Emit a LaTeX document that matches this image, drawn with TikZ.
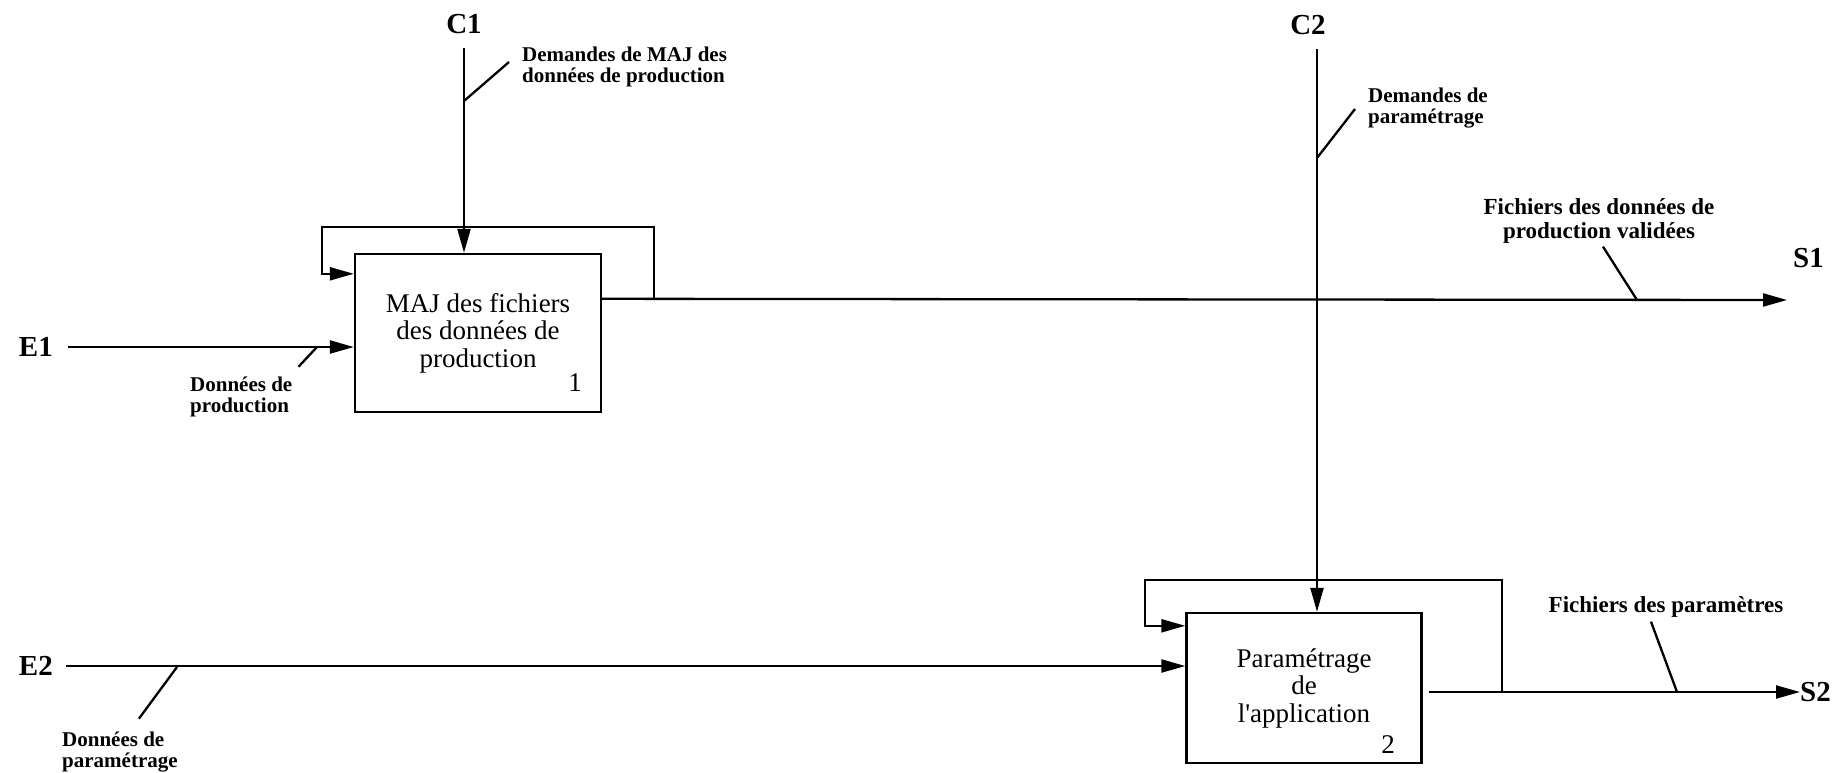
\documentclass[tikz,border=0pt]{standalone}
\usepackage{fontspec}
\setmainfont{Liberation Serif}
\usetikzlibrary{positioning,arrows.meta,calc}

\begin{document}
\begin{tikzpicture}[
      x=1pt, y=-1pt,
      fct/.style={rectangle, draw, line width=2.4pt, align=center, inner sep=0pt,
                  font=\fontsize{27}{27.5}\selectfont},
      fnum/.style={inner sep=0pt, font=\fontsize{27}{27}\selectfont},
      flux/.style={line width=2.3pt, -{Triangle[length=24pt,width=13pt]}},
      lien/.style={line width=2.3pt},
      ext/.style={inner sep=0pt, font=\fontsize{29}{29}\selectfont\bfseries},
      lab/.style={inner sep=0pt, align=left, font=\fontsize{21}{21}\selectfont\bfseries},
      labr/.style={inner sep=0pt, align=center, font=\fontsize{23}{24}\selectfont\bfseries},
    ]
    \useasboundingbox (0,0) rectangle (1840,772);

    \node[fct, minimum width=246pt, minimum height=158pt] (b1) at (478,333) {MAJ des fichiers\\des données de\\production};
    \node[fnum] (n1) at (575,383) {1};
    \node[fct, minimum width=235pt, minimum height=150pt] (b2) at (1304,688) {Paramétrage\\de\\l\textquotesingle application};
    \node[fnum] (n2) at (1388,745) {2};

    \coordinate (c1) at (464,48);
    \node[ext, above=14pt of c1] (C1) {C1};
    \coordinate (c2) at (1317,49);
    \node[ext, above=14pt of c2, xshift=-9pt] (C2) {C2};
    \coordinate (e1) at (68,347);
    \node[ext, left=15pt of e1] (E1) {E1};
    \coordinate (e2) at (66,666);
    \node[ext, left=13pt of e2] (E2) {E2};
    \coordinate (s1) at (1787,300);
    \node[ext, above right=32pt and 6pt of s1] (S1) {S1};
    \node[ext, anchor=west] (S2) at (1800,692) {S2};

    \node[lab, anchor=west] (lc1) at (522,67) {Demandes de MAJ des\\données de production};
    \node[lab, anchor=west] (lc2) at (1368,108) {Demandes de\\paramétrage};
    \node[lab, anchor=west] (le1) at (190,397) {Données de\\production};
    \node[lab, anchor=west] (le2) at (62,752) {Données de\\paramétrage};
    \node[labr] (ls1) at (1599,221) {Fichiers des données de\\production validées};
    \node[labr] (ls2) at (1666,607) {Fichiers des paramètres};

    \coordinate (o1) at ($(b1.north east)+(0,46)$);
    \coordinate (j1) at ($(o1)+(52,0)$);
    \coordinate (j2) at ($(b2.east)+(79,4)$);

    \draw[flux] (c1) -- (c1 |- b1.north);
    \draw[flux] (c2) -- (c2 |- b2.north);
    \draw[flux] (e1) -- (e1 -| b1.west);
    \draw[flux] (e2) -- (e2 -| b2.west);
    \draw[flux] (o1) -- (s1);
    \draw[flux] ($(b2.east)+(6,4)$) -- (S2.west);
    \draw[flux] (j1) |- ($(b1.north west)+(-32,-26)$) |- ($(b1.north west)+(0,21)$);
    \draw[flux] (j2) |- ($(b2.north west)+(-40,-32)$) |- ($(b2.north west)+(0,14)$);

    \draw[lien] ($(c1)+(0,53)$) -- ($(lc1.west)+(-13,-5)$);
    \draw[lien] ($(c2)+(0,109)$) -- ($(lc2.west)+(-13,1)$);
    \draw[lien] ($(e1)+(249,0)$) -- ($(le1.north east)+(6,-10)$);
    \draw[lien] ($(e2)+(111,1)$) -- ($(le2.north)+(19,-13)$);
    \draw[lien] ($(s1)+(-150,0)$) -- ($(ls1.south)+(4,3)$);
    \draw[lien] ($(S2.west)+(-123,0)$) -- ($(ls2.south)+(-15,4)$);
  \end{tikzpicture}
\end{document}
